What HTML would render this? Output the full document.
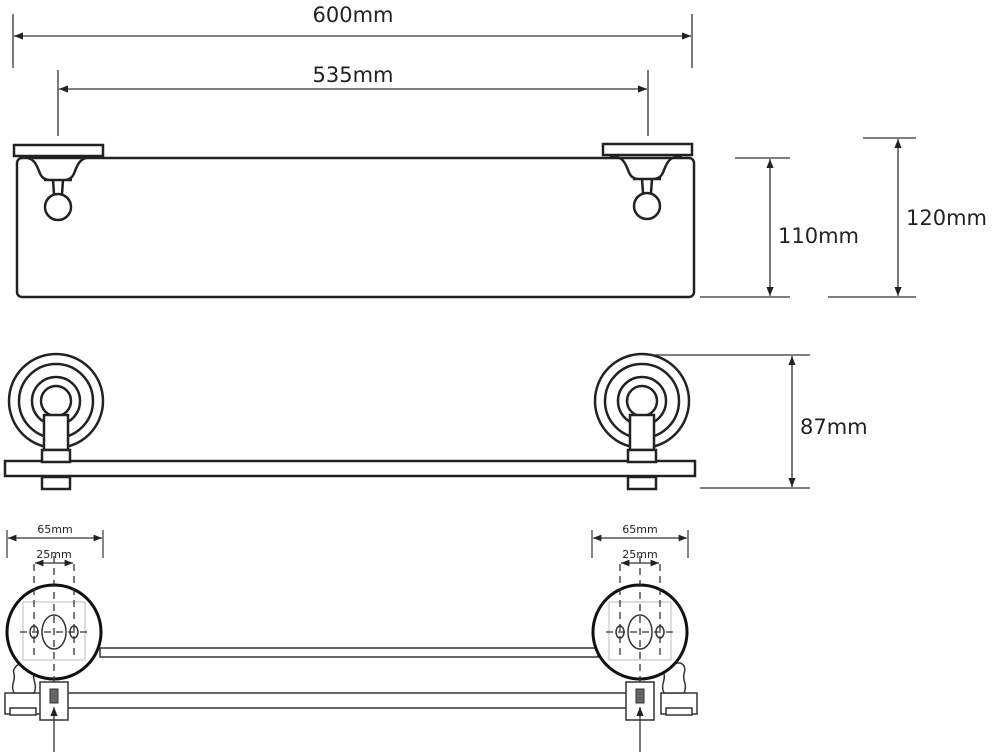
<!DOCTYPE html>
<html><head><meta charset="utf-8"><style>
html,body{margin:0;padding:0;background:#fff;width:1000px;height:755px;overflow:hidden}
svg{display:block}
text{font-family:"DejaVu Sans","Liberation Sans",sans-serif;fill:#222}
</style></head><body>
<svg width="1000" height="755" viewBox="0 0 1000 755" xmlns="http://www.w3.org/2000/svg">
<defs>
<marker id="a" viewBox="0 0 10 10" refX="10" refY="5" markerWidth="7" markerHeight="7" orient="auto-start-reverse"><path d="M0,1 L10,5 L0,9 z" fill="#222"/></marker>
<g id="brk">
  <rect x="-44" y="-62" width="89" height="11" fill="#fff" stroke="#222" stroke-width="2.5"/>
  <path d="M-37,-50 C-25,-50 -22,-44 -19,-36 C-17,-30 -14,-27 -8,-27 M35,-50 C23,-50 20,-44 17,-36 C15,-30 12,-27 6,-27 M-14,-27 L14,-27 M-5,-27 L-4,-13 M5,-27 L4,-13" fill="none" stroke="#222" stroke-width="2.5"/>
  <circle cx="0" cy="0" r="13" fill="#fff" stroke="#222" stroke-width="2.5"/>
</g>
<g id="top">
  <circle r="47" fill="none" stroke="#222" stroke-width="2.5"/>
  <circle r="37" fill="none" stroke="#222" stroke-width="2.5"/>
  <circle r="24" fill="none" stroke="#222" stroke-width="2.5"/>
  <circle r="15" fill="#fff" stroke="#222" stroke-width="2.5"/>
  <rect x="-12" y="14" width="24" height="35" fill="#fff" stroke="#222" stroke-width="2.5"/>
  <rect x="-14" y="49" width="28" height="12" fill="#fff" stroke="#222" stroke-width="2.5"/>
  <rect x="-14" y="76" width="28" height="12" fill="#fff" stroke="#222" stroke-width="2.5"/>
</g>
<g id="bot">
  <rect x="-31" y="-30" width="62" height="58" fill="none" stroke="#bbb" stroke-width="1"/>
  <circle r="47" fill="none" stroke="#111" stroke-width="3"/>
  <ellipse cx="0" cy="0" rx="12" ry="17" fill="none" stroke="#333" stroke-width="1.5"/>
  <ellipse cx="-20" cy="0" rx="4" ry="6" fill="none" stroke="#333" stroke-width="1.5"/>
  <ellipse cx="20" cy="0" rx="4" ry="6" fill="none" stroke="#333" stroke-width="1.5"/>
  <path d="M0,-76 V72 M-20,-68 V24 M20,-68 V24 M-34,0 H34" stroke="#333" stroke-width="1.3" stroke-dasharray="7,5" fill="none"/>
  <rect x="-14" y="50" width="28" height="38" fill="#fff" stroke="#333" stroke-width="1.5"/>
  <rect x="-4" y="57" width="8" height="14" fill="#666" stroke="#333" stroke-width="1"/>
  <line x1="0" y1="120" x2="0" y2="75" stroke="#333" stroke-width="1.3" marker-end="url(#a)"/>
</g>
</defs>

<g stroke="#333" stroke-width="1.3">
<line x1="13" y1="14" x2="13" y2="68"/><line x1="692" y1="14" x2="692" y2="68"/>
<line x1="14" y1="36" x2="691" y2="36" marker-start="url(#a)" marker-end="url(#a)"/>
<line x1="58" y1="70" x2="58" y2="136"/><line x1="648" y1="70" x2="648" y2="136"/>
<line x1="59" y1="89" x2="647" y2="89" marker-start="url(#a)" marker-end="url(#a)"/>
</g>
<text x="353" y="22" font-size="21" text-anchor="middle">600mm</text>
<text x="353" y="82" font-size="21" text-anchor="middle">535mm</text>

<rect x="17" y="158" width="677" height="139" rx="5" fill="#fff" stroke="#222" stroke-width="2.5"/>
<use href="#brk" x="58" y="207"/>
<use href="#brk" x="647" y="206"/>

<g stroke="#333" stroke-width="1.3">
<line x1="735" y1="158" x2="790" y2="158"/><line x1="700" y1="297" x2="790" y2="297"/>
<line x1="770" y1="159" x2="770" y2="296" marker-start="url(#a)" marker-end="url(#a)"/>
<line x1="863" y1="138" x2="916" y2="138"/><line x1="828" y1="297" x2="916" y2="297"/>
<line x1="898" y1="139" x2="898" y2="296" marker-start="url(#a)" marker-end="url(#a)"/>
</g>
<text x="778" y="243" font-size="21">110mm</text>
<text x="906" y="225" font-size="21">120mm</text>

<rect x="5" y="461" width="690" height="15" fill="#fff" stroke="#222" stroke-width="2.5"/>
<use href="#top" x="56" y="401"/>
<use href="#top" x="642" y="401"/>
<g stroke="#333" stroke-width="1.3">
<line x1="650" y1="355" x2="810" y2="355"/><line x1="700" y1="488" x2="810" y2="488"/>
<line x1="792" y1="356" x2="792" y2="487" marker-start="url(#a)" marker-end="url(#a)"/>
</g>
<text x="800" y="434" font-size="21">87mm</text>

<g fill="#fff" stroke="#333" stroke-width="1.5">
<rect x="100" y="648" width="498" height="9"/>
<rect x="60" y="693" width="570" height="15"/>
<rect x="5" y="693" width="36" height="21"/>
<rect x="10" y="708" width="26" height="7"/>
<path d="M14,693 C10,685 16,680 14,674 C12,668 18,664 22,663 L30,663 C34,664 36,668 34,674 C32,680 38,685 34,693 Z"/>
<rect x="661" y="693" width="36" height="21"/>
<rect x="666" y="708" width="26" height="7"/>
<path d="M664,693 C660,685 666,680 664,674 C662,668 668,664 672,663 L680,663 C684,664 686,668 684,674 C682,680 688,685 684,693 Z"/>
</g>
<circle cx="54" cy="632" r="47" fill="#fff"/>
<circle cx="640" cy="632" r="47" fill="#fff"/>
<use href="#bot" x="54" y="632"/>
<use href="#bot" x="640" y="632"/>

<g stroke="#333" stroke-width="1.2">
<line x1="7" y1="530" x2="7" y2="558"/><line x1="103" y1="530" x2="103" y2="558"/>
<line x1="8" y1="538" x2="102" y2="538" marker-start="url(#a)" marker-end="url(#a)"/>
<line x1="35" y1="563" x2="73" y2="563" marker-start="url(#a)" marker-end="url(#a)"/>
<line x1="592" y1="530" x2="592" y2="558"/><line x1="688" y1="530" x2="688" y2="558"/>
<line x1="593" y1="538" x2="687" y2="538" marker-start="url(#a)" marker-end="url(#a)"/>
<line x1="621" y1="563" x2="659" y2="563" marker-start="url(#a)" marker-end="url(#a)"/>
</g>
<text x="55" y="533" font-size="11" text-anchor="middle">65mm</text>
<text x="54" y="558" font-size="11" text-anchor="middle">25mm</text>
<text x="640" y="533" font-size="11" text-anchor="middle">65mm</text>
<text x="640" y="558" font-size="11" text-anchor="middle">25mm</text>
</svg>
</body></html>
